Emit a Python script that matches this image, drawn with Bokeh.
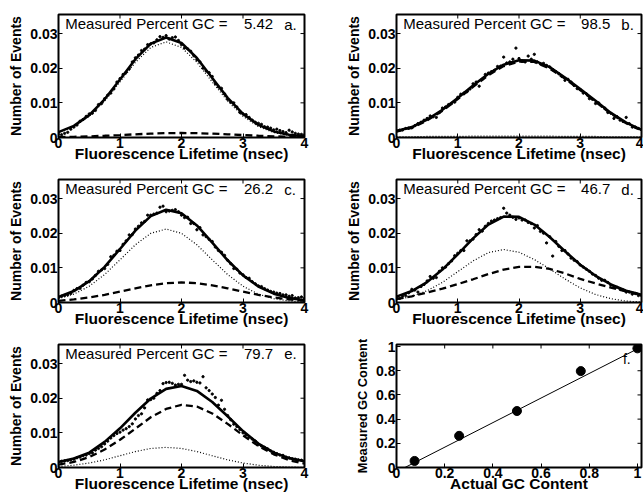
import math
from bokeh.plotting import figure
from bokeh.layouts import gridplot
from bokeh.models import Range1d, FixedTicker, Label
from bokeh.embed import file_html
from bokeh.resources import INLINE

# ---------------- data ----------------
curve_x = [0.0, 0.25, 0.5, 0.75, 1.0, 1.25, 1.5, 1.75, 2.0, 2.25, 2.5, 2.75, 3.0, 3.25, 3.5, 3.75, 4.0]
pts_x = [0.05, 0.15, 0.25, 0.35, 0.45, 0.55, 0.65, 0.75, 0.85, 0.95,
         1.05, 1.15, 1.25, 1.35, 1.45, 1.55, 1.65, 1.75, 1.85, 1.95,
         2.05, 2.15, 2.25, 2.35, 2.45, 2.55, 2.65, 2.75, 2.85, 2.95,
         3.05, 3.15, 3.25, 3.35, 3.45, 3.55, 3.65, 3.75, 3.85, 3.95]
pts_x2 = [0.0, 0.1, 0.2, 0.3, 0.4, 0.5, 0.6, 0.7, 0.8, 0.9,
          1.0, 1.1, 1.2, 1.3, 1.4, 1.5, 1.6, 1.7, 1.8, 1.9,
          2.0, 2.1, 2.2, 2.3, 2.4, 2.5, 2.6, 2.7, 2.8, 2.9,
          3.0, 3.1, 3.2, 3.3, 3.4, 3.5, 3.6, 3.7, 3.8, 3.9, 4.0]

# panel a
a_fit = [0.00155, 0.00335, 0.00644, 0.01102, 0.01674, 0.02261, 0.02710, 0.02885, 0.02729, 0.02294, 0.01715, 0.01144, 0.00682, 0.00365, 0.00176, 0.00078, 0.00032]
a_low = [0.00144, 0.00315, 0.00612, 0.01052, 0.01604, 0.02169, 0.02599, 0.02760, 0.02599, 0.02169, 0.01604, 0.01052, 0.00612, 0.00315, 0.00144, 0.00058, 0.00021]
a_gc = [0.00011, 0.00020, 0.00032, 0.00050, 0.00070, 0.00092, 0.00111, 0.00125, 0.00130, 0.00125, 0.00111, 0.00092, 0.00070, 0.00050, 0.00032, 0.00020, 0.00011]
a_pts = [0.0008, 0.0015, 0.0030, 0.0047, 0.0061, 0.0070, 0.0095, 0.0112, 0.0128, 0.0160,
         0.0182, 0.0198, 0.0230, 0.0251, 0.0268, 0.0273, 0.0291, 0.0294, 0.0288, 0.0280,
         0.0258, 0.0249, 0.0224, 0.0200, 0.0187, 0.0155, 0.0142, 0.0110, 0.0100, 0.0072,
         0.0066, 0.0050, 0.0041, 0.0031, 0.0027, 0.0024, 0.0017, 0.0021, 0.0012, 0.0009]
a_pts2 = [0.0009, 0.0012, 0.0024, 0.0036, 0.0052, 0.0068, 0.0078, 0.0098, 0.0122, 0.0140,
          0.0170, 0.0188, 0.0218, 0.0238, 0.0255, 0.0270, 0.0282, 0.0289, 0.0284, 0.0290,
          0.0268, 0.0256, 0.0236, 0.0218, 0.0192, 0.0176, 0.0146, 0.0126, 0.0102, 0.0088,
          0.0068, 0.0058, 0.0044, 0.0038, 0.0030, 0.0022, 0.0020, 0.0014, 0.0016, 0.0010, 0.0008]

# panel b
b_fit = [0.0019, 0.0030, 0.0052, 0.0080, 0.0114, 0.0150, 0.0184, 0.0210, 0.0223, 0.0222, 0.0203, 0.0173, 0.0140, 0.0106, 0.0071, 0.0043, 0.0022]
b_low = [0.0002, 0.0002, 0.0003, 0.0003, 0.0003, 0.0004, 0.0004, 0.0004, 0.0004, 0.0004, 0.0004, 0.0003, 0.0003, 0.0003, 0.0002, 0.0002, 0.0002]
b_gc = [0.0017, 0.0028, 0.0049, 0.0077, 0.0111, 0.0146, 0.0180, 0.0206, 0.0219, 0.0218, 0.0199, 0.0170, 0.0137, 0.0103, 0.0069, 0.0041, 0.0020]
b_pts = [0.0021, 0.0026, 0.0028, 0.0040, 0.0050, 0.0062, 0.0058, 0.0085, 0.0095, 0.0102,
         0.0125, 0.0132, 0.0155, 0.0148, 0.0182, 0.0190, 0.0205, 0.0232, 0.0218, 0.0258,
         0.0220, 0.0235, 0.0240, 0.0212, 0.0208, 0.0196, 0.0184, 0.0165, 0.0160, 0.0141,
         0.0128, 0.0112, 0.0098, 0.0090, 0.0072, 0.0055, 0.0050, 0.0058, 0.0030, 0.0026]
b_pts2 = [0.0020, 0.0022, 0.0027, 0.0034, 0.0044, 0.0055, 0.0060, 0.0072, 0.0088, 0.0098,
          0.0116, 0.0128, 0.0140, 0.0160, 0.0168, 0.0186, 0.0194, 0.0206, 0.0215, 0.0226,
          0.0228, 0.0218, 0.0226, 0.0218, 0.0214, 0.0204, 0.0190, 0.0176, 0.0168, 0.0150,
          0.0138, 0.0126, 0.0110, 0.0100, 0.0085, 0.0070, 0.0060, 0.0046, 0.0040, 0.0030, 0.0023]

# panel c
c_fit = [0.00159, 0.00330, 0.00615, 0.01029, 0.01545, 0.02076, 0.02493, 0.02678, 0.02576, 0.02224, 0.01729, 0.01218, 0.00783, 0.00463, 0.00255, 0.00133, 0.00065]
c_low = [0.00110, 0.00242, 0.00470, 0.00808, 0.01232, 0.01666, 0.01996, 0.02120, 0.01996, 0.01666, 0.01232, 0.00808, 0.00470, 0.00242, 0.00110, 0.00045, 0.00016]
c_gc = [0.00049, 0.00088, 0.00145, 0.00221, 0.00313, 0.00410, 0.00497, 0.00558, 0.00580, 0.00558, 0.00497, 0.00410, 0.00313, 0.00221, 0.00145, 0.00088, 0.00049]
c_pts = [0.0018, 0.0022, 0.0035, 0.0041, 0.0058, 0.0068, 0.0090, 0.0098, 0.0132, 0.0148,
         0.0168, 0.0195, 0.0212, 0.0230, 0.0252, 0.0255, 0.0275, 0.0262, 0.0266, 0.0262,
         0.0245, 0.0228, 0.0210, 0.0195, 0.0182, 0.0160, 0.0145, 0.0122, 0.0098, 0.0085,
         0.0072, 0.0060, 0.0048, 0.0040, 0.0032, 0.0027, 0.0022, 0.0018, 0.0013, 0.0016]
c_pts2 = [0.0015, 0.0020, 0.0026, 0.0040, 0.0050, 0.0060, 0.0078, 0.0094, 0.0110, 0.0136,
          0.0150, 0.0178, 0.0196, 0.0220, 0.0234, 0.0252, 0.0258, 0.0278, 0.0264, 0.0268,
          0.0252, 0.0246, 0.0228, 0.0216, 0.0190, 0.0176, 0.0150, 0.0136, 0.0112, 0.0096,
          0.0080, 0.0070, 0.0054, 0.0046, 0.0036, 0.0030, 0.0026, 0.0022, 0.0020, 0.0014, 0.0012]

# panel d
d_fit = [0.0017, 0.0033, 0.0059, 0.0095, 0.0139, 0.0185, 0.0225, 0.0248, 0.0247, 0.0225, 0.0189, 0.0148, 0.0109, 0.0077, 0.0052, 0.0034, 0.0022]
d_low = [0.0008, 0.00175, 0.0034, 0.0058, 0.0089, 0.0120, 0.0144, 0.0153, 0.0145, 0.0124, 0.0097, 0.0068, 0.0042, 0.0023, 0.0011, 0.0004, 0.00015]
d_gc = [0.0010, 0.0018, 0.0029, 0.0040, 0.0053, 0.0067, 0.0082, 0.0095, 0.0103, 0.0103, 0.0097, 0.0084, 0.0068, 0.0055, 0.0043, 0.0032, 0.0023]
d_pts = [0.0012, 0.0020, 0.0038, 0.0030, 0.0052, 0.0075, 0.0072, 0.0100, 0.0112, 0.0135,
         0.0150, 0.0178, 0.0183, 0.0210, 0.0220, 0.0235, 0.0242, 0.0272, 0.0252, 0.0240,
         0.0238, 0.0231, 0.0215, 0.0205, 0.0172, 0.0134, 0.0162, 0.0150, 0.0128, 0.0118,
         0.0102, 0.0090, 0.0078, 0.0064, 0.0058, 0.0045, 0.0038, 0.0030, 0.0024, 0.0020]
d_pts2 = [0.0014, 0.0018, 0.0028, 0.0036, 0.0046, 0.0062, 0.0070, 0.0090, 0.0102, 0.0120,
          0.0142, 0.0150, 0.0178, 0.0196, 0.0206, 0.0228, 0.0238, 0.0245, 0.0258, 0.0246,
          0.0244, 0.0238, 0.0228, 0.0222, 0.0200, 0.0190, 0.0176, 0.0150, 0.0140, 0.0122,
          0.0108, 0.0096, 0.0082, 0.0070, 0.0064, 0.0050, 0.0044, 0.0036, 0.0030, 0.0026, 0.0020]

# panel e
e_fit = [0.0016, 0.0026, 0.0043, 0.0074, 0.0113, 0.0158, 0.0199, 0.0227, 0.0235, 0.0221, 0.0189, 0.0148, 0.0105, 0.0069, 0.0043, 0.0027, 0.0018]
e_low = [0.0003, 0.00066, 0.0013, 0.0022, 0.0034, 0.0046, 0.0055, 0.0058, 0.0055, 0.0046, 0.0034, 0.0022, 0.0013, 0.00066, 0.0003, 0.00012, 0.00004]
e_gc = [0.0008, 0.0016, 0.0030, 0.0052, 0.0080, 0.0112, 0.0145, 0.0169, 0.0181, 0.0176, 0.0156, 0.0126, 0.0093, 0.0062, 0.0038, 0.0021, 0.0011]
e_pts = [0.0018, 0.0020, 0.0024, 0.0030, 0.0036, 0.0042, 0.0055, 0.0068, 0.0085, 0.0098,
         0.0108, 0.0118, 0.0140, 0.0155, 0.0195, 0.0200, 0.0222, 0.0245, 0.0243, 0.0240,
         0.0266, 0.0248, 0.0246, 0.0262, 0.0222, 0.0202, 0.0194, 0.0150, 0.0125, 0.0110,
         0.0095, 0.0082, 0.0066, 0.0058, 0.0048, 0.0040, 0.0035, 0.0028, 0.0024, 0.0021]
e_pts2 = [0.0016, 0.0019, 0.0022, 0.0028, 0.0034, 0.0040, 0.0050, 0.0060, 0.0076, 0.0092,
          0.0102, 0.0112, 0.0126, 0.0150, 0.0172, 0.0196, 0.0214, 0.0242, 0.0246, 0.0238,
          0.0240, 0.0252, 0.0250, 0.0244, 0.0230, 0.0212, 0.0180, 0.0168, 0.0138, 0.0118,
          0.0100, 0.0088, 0.0076, 0.0062, 0.0054, 0.0044, 0.0036, 0.0030, 0.0025, 0.0022, 0.0019]

panel_letters = ["a.", "b.", "c.", "d.", "e."]
panel_actual_gc = [0.075, 1.0, 0.26, 0.5, 0.765]
panel_measured_gc = [0.0542, 0.985, 0.262, 0.467, 0.797]
fit_line_x = [0.035, 1.019]
fit_line_y = [0.0, 1.0]

x_ticks = [0, 1, 2, 3, 4]
x_tick_labels = ["0", "1", "2", "3", "4"]
y_ticks = [0, 0.01, 0.02, 0.03]
y_tick_labels = ["0", "0.01", "0.02", "0.03"]
f_ticks = [0, 0.2, 0.4, 0.6, 0.8, 1]
f_tick_labels = ["0", "0.2", "0.4", "0.6", "0.8", "1"]

# ---------------- styling ----------------
FONT = "Liberation Sans"
COL_W = [320, 323]
ROW_H = [173, 165, 164]
ROW_TOP = [14, 6, 6]
FRAME_H = 123


def style_axes(p, xt, xl, yt, yl, xlabel, ylabel, ylabel_size="14px"):
    p.xaxis.ticker = FixedTicker(ticks=xt)
    p.yaxis.ticker = FixedTicker(ticks=yt)
    p.xaxis.major_label_overrides = dict(zip(xt, xl))
    p.yaxis.major_label_overrides = dict(zip(yt, yl))
    p.xaxis.axis_label = xlabel
    p.yaxis.axis_label = ylabel
    for ax in (p.xaxis[0], p.yaxis[0]):
        ax.axis_line_color = None
        ax.major_tick_in = 4
        ax.major_tick_out = 0
        ax.major_tick_line_color = "black"
        ax.minor_tick_line_color = None
        ax.major_label_text_font = FONT
        ax.major_label_text_font_style = "bold"
        ax.major_label_text_font_size = "14px"
        ax.major_label_text_color = "black"
        ax.axis_label_text_font = FONT
        ax.axis_label_text_font_style = "bold"
        ax.axis_label_text_color = "black"
    p.xaxis.major_label_standoff = 0
    p.yaxis.major_label_standoff = 1
    p.xaxis.axis_label_text_font_size = "15.5px"
    p.yaxis.axis_label_text_font_size = ylabel_size
    p.xaxis.axis_label_standoff = -6
    p.yaxis.axis_label_standoff = 3
    # inward ticks on the top and right edges of the box (half outside is clipped)
    xr, yr = p.x_range, p.y_range
    p.scatter(xt, [yr.end] * len(xt), marker="dash", angle=math.pi / 2, size=8,
              line_color="black", line_width=1)
    p.scatter([xr.end] * len(yt), yt, marker="dash", size=8,
              line_color="black", line_width=1)


def base_fig(col, row, xr, yr):
    h = ROW_H[row]
    p = figure(width=COL_W[col], height=h,
               x_range=xr, y_range=yr, output_backend="svg", toolbar_location=None,
               min_border_left=58 if col == 0 else 76,
               min_border_right=16 if col == 0 else 2,
               min_border_top=ROW_TOP[row],
               min_border_bottom=h - ROW_TOP[row] - FRAME_H)
    p.grid.visible = False
    p.outline_line_color = "black"
    p.outline_line_width = 2
    p.background_fill_color = "white"
    p.border_fill_color = "white"
    return p


def lifetime_panel(i, col, row, fit, low, gc, pts, pts2):
    p = base_fig(col, row, Range1d(0, 4), Range1d(0, 0.0355))
    p.line(curve_x, low, line_color="black", line_width=1.2, line_dash="1 2")
    p.line(curve_x, gc, line_color="black", line_width=2.3, line_dash="7 4")
    p.line(curve_x, fit, line_color="black", line_width=2.6)
    p.scatter(pts_x, pts, size=2.3, color="black")
    p.scatter(pts_x2, pts2, size=2.3, color="black")
    style_axes(p, x_ticks, x_tick_labels, y_ticks, y_tick_labels,
               "Fluorescence Lifetime (nsec)", "Number of Events")
    p.add_layout(Label(x=0.11, y=0.0329, text="Measured Percent GC =", text_font=FONT,
                       text_font_size="15px", text_baseline="middle", text_color="black"))
    p.add_layout(Label(x=3.49, y=0.0329, text=f"{panel_measured_gc[i] * 100:.3g}", text_font=FONT,
                       text_font_size="15px", text_baseline="middle", text_align="right",
                       text_color="black"))
    p.add_layout(Label(x=3.67, y=0.0327, text=panel_letters[i], text_font=FONT,
                       text_font_size="15px", text_baseline="middle", text_color="black"))
    return p


pa = lifetime_panel(0, 0, 0, a_fit, a_low, a_gc, a_pts, a_pts2)
pb = lifetime_panel(1, 1, 0, b_fit, b_low, b_gc, b_pts, b_pts2)
pc = lifetime_panel(2, 0, 1, c_fit, c_low, c_gc, c_pts, c_pts2)
pd = lifetime_panel(3, 1, 1, d_fit, d_low, d_gc, d_pts, d_pts2)
pe = lifetime_panel(4, 0, 2, e_fit, e_low, e_gc, e_pts, e_pts2)

pf = base_fig(1, 2, Range1d(0, 1.017), Range1d(0, 1.017))
pf.line(fit_line_x, fit_line_y, line_color="black", line_width=1)
pf.scatter(panel_actual_gc, panel_measured_gc, size=9, color="black")
style_axes(pf, f_ticks, f_tick_labels, f_ticks, f_tick_labels,
           "Actual GC Content", "Measured GC Content", ylabel_size="12.8px")
pf.add_layout(Label(x=0.94, y=0.9, text="f.", text_font=FONT, text_font_size="14px",
                    text_baseline="middle", text_color="black"))

grid = gridplot([[pa, pb], [pc, pd], [pe, pf]], toolbar_location=None)

open("out.html", "w").write(file_html(grid, INLINE))
